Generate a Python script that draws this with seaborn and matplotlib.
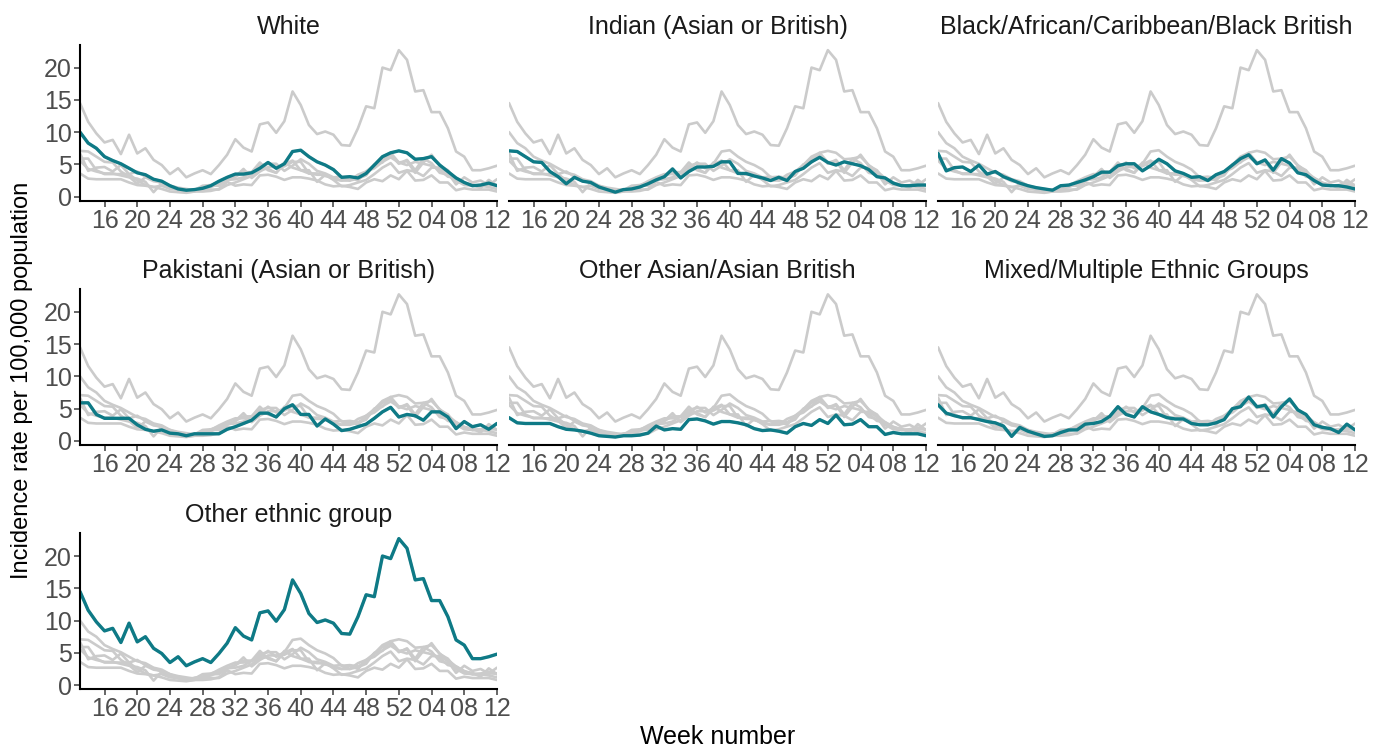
import pandas as pd
import numpy as np
import seaborn as sns
import matplotlib.pyplot as plt

# week sequence: week 13 of one year to week 12 of the next
weeks = list(range(13, 53)) + list(range(1, 13))
tick_labels = ['16', '20', '24', '28', '32', '36', '40', '44', '48', '52', '04', '08', '12']

groups = ['White', 'Indian (Asian or British)', 'Black/African/Caribbean/Black British',
          'Pakistani (Asian or British)', 'Other Asian/Asian British',
          'Mixed/Multiple Ethnic Groups', 'Other ethnic group']

white = [10.0, 8.3, 7.5, 6.2, 5.6, 5.1, 4.4, 3.7, 3.4, 2.7, 2.4, 1.7, 1.2, 1.0, 1.1, 1.3,
         1.7, 2.4, 3.0, 3.5, 3.5, 3.7, 4.4, 5.3, 4.4, 5.1, 7.0, 7.2, 6.2, 5.4, 4.9, 4.2,
         3.0, 3.1, 2.9, 3.6, 4.9, 6.2, 6.8, 7.1, 6.8, 5.8, 5.9, 6.2, 4.9, 3.9, 2.9, 2.2,
         1.7, 1.8, 2.1, 1.7]
indian = [7.1, 7.0, 6.2, 5.4, 5.3, 3.9, 3.1, 2.0, 3.0, 2.4, 2.2, 1.5, 1.1, 0.7, 1.1, 1.2,
          1.5, 2.0, 2.6, 3.1, 4.3, 2.9, 3.9, 4.6, 4.6, 4.7, 5.4, 5.4, 3.6, 3.6, 3.2, 2.9,
          2.5, 3.0, 2.5, 3.9, 4.4, 5.4, 6.1, 5.3, 4.9, 5.4, 5.1, 4.8, 4.2, 3.1, 2.9, 2.1,
          1.7, 1.7, 1.8, 1.8]
black = [6.7, 4.0, 4.5, 4.6, 3.9, 4.9, 3.5, 3.9, 3.1, 2.6, 2.1, 1.7, 1.4, 1.2, 1.0, 1.7,
         1.8, 2.2, 2.6, 3.1, 3.8, 3.8, 4.8, 5.1, 5.1, 4.0, 4.8, 5.8, 5.1, 4.0, 3.6, 3.0,
         3.1, 2.5, 3.4, 3.9, 4.9, 5.9, 6.5, 5.1, 5.7, 4.1, 5.9, 5.2, 3.7, 3.4, 2.5, 1.8,
         1.7, 1.7, 1.5, 1.2]
pakistani = [5.9, 5.9, 4.1, 3.5, 3.5, 3.5, 3.5, 2.5, 1.8, 1.5, 1.7, 1.2, 1.1, 0.8, 1.1, 1.1,
             1.1, 1.1, 1.8, 2.2, 2.7, 3.2, 4.3, 4.3, 3.7, 5.0, 5.6, 4.1, 4.1, 2.3, 3.4, 2.6,
             1.6, 1.8, 2.2, 2.6, 3.5, 4.5, 5.2, 3.7, 4.1, 3.9, 3.2, 4.5, 4.5, 3.7, 1.9, 3.0,
             2.2, 2.5, 1.8, 2.7]
other_asian = [3.6, 2.8, 2.7, 2.7, 2.7, 2.7, 2.2, 1.8, 1.7, 1.5, 1.2, 0.8, 0.7, 0.6, 0.8, 0.8,
               0.9, 1.2, 2.3, 1.7, 1.9, 1.8, 3.3, 3.4, 3.1, 2.6, 3.0, 3.0, 2.8, 2.5, 1.9, 1.6,
               1.7, 1.5, 1.2, 2.2, 2.7, 2.4, 3.3, 2.7, 4.0, 2.5, 2.6, 3.3, 2.2, 2.2, 1.0, 1.3,
               1.1, 1.1, 1.1, 0.8]
mixed = [5.6, 4.3, 3.9, 3.6, 3.6, 3.3, 3.0, 2.8, 2.3, 0.7, 2.1, 1.5, 1.1, 0.7, 0.8, 1.3,
         1.7, 1.7, 2.6, 2.7, 3.0, 3.8, 5.3, 4.1, 3.7, 5.3, 4.5, 4.1, 3.6, 3.4, 3.4, 2.7,
         2.5, 2.5, 2.8, 3.3, 5.0, 5.3, 6.8, 5.3, 5.5, 3.7, 5.3, 6.5, 4.8, 4.1, 2.5, 2.1,
         1.9, 1.3, 2.6, 1.7]
other = [14.5, 11.6, 9.8, 8.4, 8.8, 6.6, 9.6, 6.7, 7.5, 5.7, 4.9, 3.5, 4.4, 3.0, 3.6, 4.1,
         3.5, 4.9, 6.5, 8.9, 7.6, 7.0, 11.2, 11.5, 9.9, 11.7, 16.3, 14.2, 11.1, 9.7, 10.1, 9.6,
         8.0, 7.9, 10.6, 14.0, 13.7, 20.0, 19.6, 22.7, 21.2, 16.3, 16.5, 13.1, 13.1, 10.6, 7.0, 6.2,
         4.1, 4.1, 4.4, 4.8]

series = [white, indian, black, pakistani, other_asian, mixed, other]

rows = []
for name, vals in zip(groups, series):
    for i, v in enumerate(vals):
        rows.append({'idx': i, 'week': weeks[i], 'group': name, 'rate': v})
df = pd.DataFrame(rows)
df['panel'] = pd.Categorical(df['group'], categories=groups)

teal = '#0e7a86'
grey = '#cbcbcb'

sns.set_theme(style='white')
plt.rcParams['font.family'] = ['Liberation Sans', 'DejaVu Sans']

g = sns.FacetGrid(df, col='panel', col_wrap=3, col_order=groups, sharex=True, sharey=True,
                  despine=True)
g.figure.set_size_inches(13.73, 7.47)

for name, ax in g.axes_dict.items():
    sns.lineplot(data=df, x='idx', y='rate', units='group', estimator=None,
                 color=grey, linewidth=1.9, ax=ax)
    sns.lineplot(data=df[df['group'] == name], x='idx', y='rate',
                 color=teal, linewidth=2.4, ax=ax)
    ax.set_title(name, fontsize=18, color='#1a1a1a', pad=8)
    ax.set_xlim(0, 51)
    ax.set_ylim(-0.6, 23.5)
    ax.set_xticks(range(3, 52, 4))
    ax.set_xticklabels(tick_labels)
    ax.set_yticks([0, 5, 10, 15, 20])
    ax.tick_params(labelbottom=True, labelsize=18, colors='#4d4d4d', length=4, width=1.2,
                   pad=2, bottom=True, left=True)
    ax.set_xlabel('')
    ax.set_ylabel('')
    for s in ['left', 'bottom']:
        ax.spines[s].set_color('black')
        ax.spines[s].set_linewidth(1.5)

# inner panels have no y axis line
for i, ax in enumerate(g.axes.flat):
    if i % 3 != 0:
        ax.spines['left'].set_visible(False)
        ax.tick_params(left=False, labelleft=False)

g.figure.subplots_adjust(left=80 / 1373, right=1355 / 1373, top=1 - 45 / 747,
                         bottom=1 - 689 / 747, wspace=0.029, hspace=0.57)
g.figure.text(718 / 1373, 1 - 737 / 747, 'Week number', ha='center', va='center',
              fontsize=18, color='black')
g.figure.text(22 / 1373, 1 - 380 / 747, 'Incidence rate per 100,000 population',
              ha='center', va='center', rotation=90, fontsize=17, color='black')

g.figure.savefig('out.png', dpi=100)
